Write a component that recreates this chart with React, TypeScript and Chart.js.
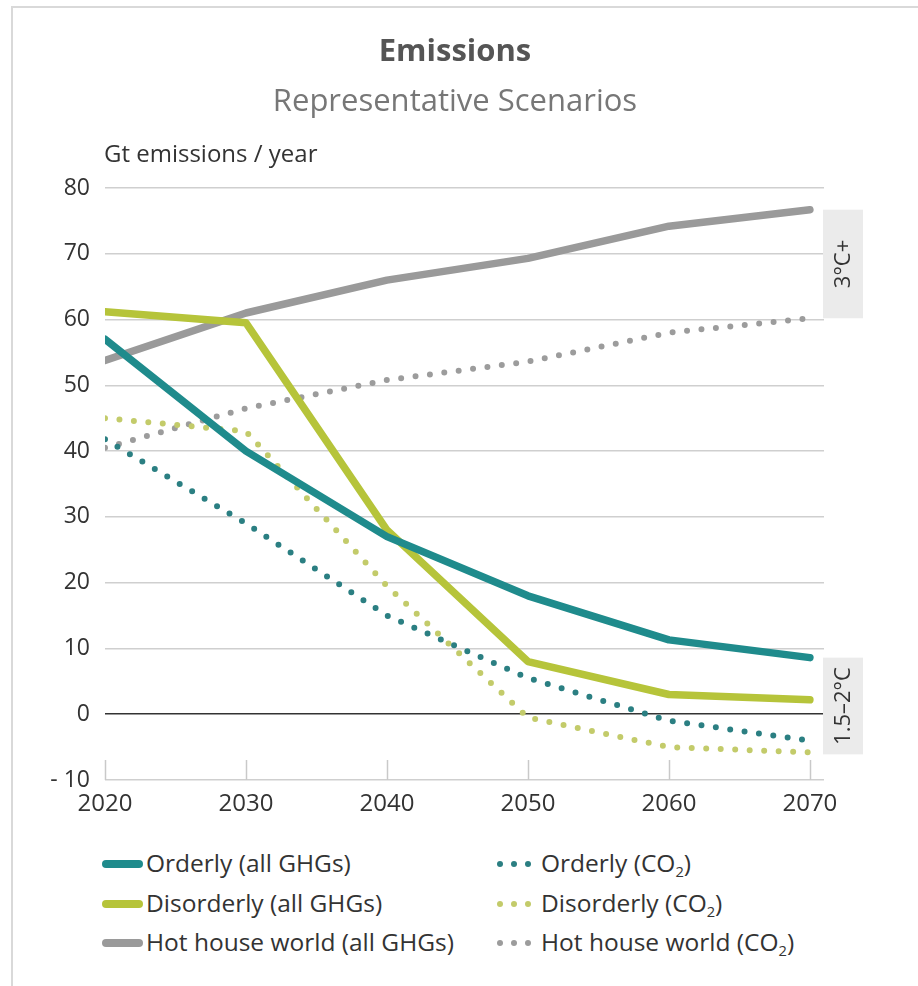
import React, { useEffect, useRef } from 'react';
import { Chart, registerables } from 'chart.js';

Chart.register(...registerables);

const years = [2020, 2030, 2040, 2050, 2060, 2070];
const orderlyGhg = [57, 40, 27, 18, 11.3, 8.6];
const disorderlyGhg = [61.2, 59.5, 28, 8, 3, 2.2];
const hotGhg = [53.8, 61, 66, 69.3, 74.2, 76.7];
const orderlyCo2 = [41.8, 29, 15, 5.5, -1, -4];
const disorderlyCo2 = [45, 43, 19.5, -0.5, -5, -5.8];
const hotCo2 = [40.5, 46.5, 50.8, 53.6, 58, 60.2];

const yTicks = [-10, 0, 10, 20, 30, 40, 50, 60, 70, 80];
const xTicks = [2020, 2030, 2040, 2050, 2060, 2070];

const badgeLabels = ['3°C+', '1.5–2°C'];
const badgeTop = [76.7, 8.6];
const badgeBottom = [60.2, -6.1];

const TEAL = '#1f8b8c';
const LIME = '#b6c43a';
const GREY = '#9a9a9a';
const TEAL_DOT = '#2b7f82';
const LIME_DOT = '#c3cb6a';
const GREY_DOT = '#9c9c9c';

const FONT = '"Open Sans", sans-serif';

const series = [
  { label: 'Orderly (all GHGs)', data: orderlyGhg, color: TEAL, dotted: false },
  { label: 'Disorderly (all GHGs)', data: disorderlyGhg, color: LIME, dotted: false },
  { label: 'Hot house world (all GHGs)', data: hotGhg, color: GREY, dotted: false },
  { label: 'Orderly (CO2)', data: orderlyCo2, color: TEAL_DOT, dotted: true },
  { label: 'Disorderly (CO2)', data: disorderlyCo2, color: LIME_DOT, dotted: true },
  { label: 'Hot house world (CO2)', data: hotCo2, color: GREY_DOT, dotted: true },
];

const decorPlugin = {
  id: 'decor',
  beforeDatasetsDraw(chart: any) {
    const { ctx, chartArea, scales } = chart;
    const xs = scales.x;
    ctx.save();
    ctx.strokeStyle = '#c9c9c9';
    ctx.lineWidth = 1.5;
    xTicks.forEach((v) => {
      const px = Math.round(xs.getPixelForValue(v)) + 0.5;
      ctx.beginPath();
      ctx.moveTo(px, chartArea.bottom);
      ctx.lineTo(px, chartArea.bottom - 20);
      ctx.stroke();
    });
    ctx.restore();
  },
  afterDraw(chart: any) {
    const { ctx, chartArea, scales } = chart;
    const ys = scales.y;
    ctx.save();
    ctx.fillStyle = '#333';
    ctx.font = `24px ${FONT}`;
    ctx.textAlign = 'left';
    ctx.textBaseline = 'middle';
    ctx.fillText('Gt emissions / year', 104, 155);

    badgeLabels.forEach((lab, i) => {
      const top = ys.getPixelForValue(badgeTop[i]);
      const bot = ys.getPixelForValue(badgeBottom[i]);
      const left = chartArea.right - 1;
      const w = 40;
      ctx.fillStyle = '#ebebeb';
      ctx.fillRect(left, top, w, bot - top);
      ctx.save();
      ctx.translate(left + w / 2, (top + bot) / 2);
      ctx.rotate(-Math.PI / 2);
      ctx.fillStyle = '#333';
      ctx.font = `22px ${FONT}`;
      ctx.textAlign = 'center';
      ctx.textBaseline = 'middle';
      ctx.fillText(lab, 0, 1);
      ctx.restore();
    });
    ctx.restore();
  },
};

function LegendSwatch({ color, dotted }: { color: string; dotted: boolean }) {
  if (!dotted) {
    return (
      <div
        style={{
          position: 'absolute',
          left: 0,
          top: -4,
          width: 41,
          height: 8,
          borderRadius: 4,
          background: color,
        }}
      />
    );
  }
  return (
    <>
      {[0, 14, 28].map((dx) => (
        <div
          key={dx}
          style={{
            position: 'absolute',
            left: 2 + dx,
            top: -3,
            width: 6,
            height: 6,
            borderRadius: 3,
            background: color,
          }}
        />
      ))}
    </>
  );
}

function LegendLabel({ text }: { text: string }) {
  if (text.endsWith('(CO2)')) {
    const base = text.slice(0, -4);
    return (
      <span>
        {base}CO<sub style={{ fontSize: '0.6em', verticalAlign: '-0.35em' }}>2</sub>)
      </span>
    );
  }
  return <span>{text}</span>;
}

export default function App() {
  const canvasRef = useRef<HTMLCanvasElement | null>(null);

  useEffect(() => {
    if (!canvasRef.current) return;
    const chart = new Chart(canvasRef.current, {
      type: 'line',
      data: {
        datasets: series.map((s) => ({
          label: s.label,
          data: years.map((yr, i) => ({ x: yr, y: s.data[i] })),
          borderColor: s.color,
          backgroundColor: s.color,
          borderWidth: s.dotted ? 6 : 7.5,
          borderDash: s.dotted ? [0, 14.5] : [],
          borderCapStyle: 'round',
          borderJoinStyle: 'round',
          pointRadius: 0,
          tension: 0,
          fill: false,
          order: s.dotted ? 2 : 1,
        })),
      },
      options: {
        responsive: false,
        animation: false,
        devicePixelRatio: 1,
        layout: { padding: { left: 0, right: 8, top: 0, bottom: 0 } },
        plugins: {
          legend: { display: false },
          tooltip: { enabled: false },
          title: {
            display: true,
            text: 'Emissions',
            color: '#555',
            font: { family: FONT, size: 31, weight: 'bold' },
            padding: { top: 34, bottom: 0 },
          },
          subtitle: {
            display: true,
            text: 'Representative Scenarios',
            color: '#777',
            font: { family: FONT, size: 31, weight: 'normal' },
            padding: { top: 12.2, bottom: 67.4 },
          },
        },
        scales: {
          x: {
            type: 'linear',
            min: 2020,
            max: 2071,
            afterBuildTicks: (scale: any) => {
              scale.ticks = xTicks.map((v) => ({ value: v }));
            },
            afterFit: (scale: any) => {
              scale.height = 50;
            },
            grid: { display: false, drawTicks: false },
            border: { display: false },
            ticks: {
              color: '#333',
              font: { family: FONT, size: 24 },
              padding: 10,
              maxRotation: 0,
              callback: (v: any) => String(v),
            },
          },
          y: {
            type: 'linear',
            min: -10,
            max: 80,
            afterBuildTicks: (scale: any) => {
              scale.ticks = yTicks.map((v) => ({ value: v }));
            },
            afterFit: (scale: any) => {
              scale.width = 105;
            },
            grid: {
              drawTicks: false,
              color: (c: any) => (c.tick && c.tick.value === 0 ? '#333' : '#cfcfcf'),
              lineWidth: 1.5,
            },
            border: { display: false },
            ticks: {
              color: '#333',
              font: { family: FONT, size: 23 },
              padding: 15,
              callback: (v: any) => (v < 0 ? '- ' + Math.abs(v) : String(v)),
            },
          },
          side: {
            type: 'linear',
            axis: 'y',
            position: 'right',
            display: true,
            afterFit: (scale: any) => {
              scale.width = 86;
            },
            grid: { display: false, drawTicks: false },
            border: { display: false },
            ticks: { display: false },
          },
        },
      },
      plugins: [decorPlugin],
    } as any);
    return () => chart.destroy();
  }, []);

  const solid = series.filter((s) => !s.dotted);
  const dotted = series.filter((s) => s.dotted);
  const rowY = [864, 904, 943];

  return (
    <div
      style={{
        position: 'absolute',
        left: 0,
        top: 0,
        width: 918,
        height: 986,
        background: '#fff',
        overflow: 'hidden',
        fontFamily: FONT,
      }}
    >
      <div style={{ position: 'absolute', left: 11, top: 6, width: 907, height: 2, background: '#d9d9d9' }} />
      <div style={{ position: 'absolute', left: 11, top: 6, width: 2, height: 980, background: '#d9d9d9' }} />
      <canvas
        ref={canvasRef}
        width={918}
        height={830}
        style={{ position: 'absolute', left: 0, top: 0, width: 918, height: 830 }}
      />
      {[solid, dotted].map((col, ci) =>
        col.map((s, ri) => (
          <div
            key={s.label}
            style={{ position: 'absolute', left: ci === 0 ? 102 : 495, top: rowY[ri], height: 0 }}
          >
            <LegendSwatch color={s.color} dotted={s.dotted} />
            <div
              style={{
                position: 'absolute',
                left: ci === 0 ? 44 : 46,
                top: -18,
                whiteSpace: 'nowrap',
                fontSize: 24.5,
                lineHeight: '34px',
                color: '#333',
              }}
            >
              <LegendLabel text={s.label} />
            </div>
          </div>
        ))
      )}
    </div>
  );
}
